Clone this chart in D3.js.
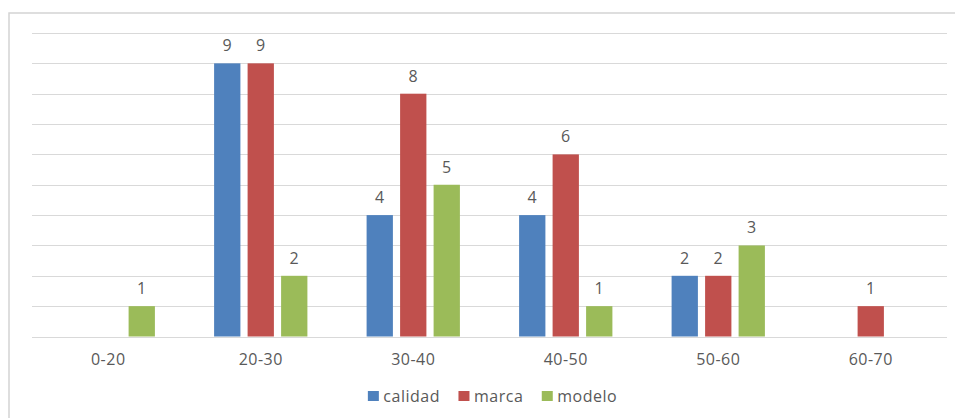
<!DOCTYPE html>
<html>
<head>
<meta charset="utf-8">
<script src="https://cdn.jsdelivr.net/npm/d3@7"></script>
<style>
  html, body { margin: 0; padding: 0; background: #fff; }
  svg { display: block; }
  text { font-family: "Open Sans", "DejaVu Sans", sans-serif; fill: #595959; letter-spacing: 0.5px; }
</style>
</head>
<body>
<svg id="chart" width="955" height="418"></svg>
<script>
// Age ranges along the x axis
const categories = ["0-20", "20-30", "30-40", "40-50", "50-60", "60-70"];
// Series names and their values per age range (null = no bar)
const seriesNames = ["calidad", "marca", "modelo"];
const calidad = [null, 9, 4, 4, 2, null];
const marca   = [null, 9, 8, 6, 2, 1];
const modelo  = [1, 2, 5, 1, 3, null];
const colors  = ["#4F81BD", "#C0504D", "#9BBB59"];
// Gridline values of the value axis
const gridTicks = [0, 1, 2, 3, 4, 5, 6, 7, 8, 9, 10];

const seriesValues = [calidad, marca, modelo];
const svg = d3.select("#chart");
const fontSize = "16px";

// Outer chart frame (open on the right and bottom edges)
svg.append("rect")
  .attr("x", 9).attr("y", 13)
  .attr("width", 1000).attr("height", 500)
  .attr("fill", "none")
  .attr("stroke", "#d4d4d4")
  .attr("stroke-width", 1.5);

const plot = { left: 32, right: 947, top: 33, bottom: 336.5 };

const x0 = d3.scaleBand()
  .domain(categories)
  .range([plot.left, plot.right])
  .padding(0);

const groupWidth = 100.5;
const x1 = d3.scaleBand()
  .domain(seriesNames)
  .range([0, groupWidth])
  .paddingInner(0.215)
  .paddingOuter(0.1075);

const y = d3.scaleLinear()
  .domain([0, 10])
  .range([plot.bottom, plot.top]);

// Horizontal gridlines
svg.append("g")
  .selectAll("line")
  .data(gridTicks)
  .join("line")
  .attr("x1", plot.left).attr("x2", plot.right)
  .attr("y1", d => Math.round(y(d)) + 0.5)
  .attr("y2", d => Math.round(y(d)) + 0.5)
  .attr("stroke", "#d9d9d9")
  .attr("stroke-width", 1);

// Bars and value labels
const rows = [];
seriesNames.forEach((name, si) => {
  categories.forEach((cat, ci) => {
    const v = seriesValues[si][ci];
    if (v !== null && v !== undefined) rows.push({ name, cat, v, color: colors[si] });
  });
});

const groupX = c => x0(c) + x0.bandwidth() / 2 - groupWidth / 2;

svg.append("g")
  .selectAll("rect")
  .data(rows)
  .join("rect")
  .attr("x", d => groupX(d.cat) + x1(d.name))
  .attr("y", d => y(d.v))
  .attr("width", x1.bandwidth())
  .attr("height", d => y(0) - y(d.v))
  .attr("fill", d => d.color);

svg.append("g")
  .selectAll("text")
  .data(rows)
  .join("text")
  .attr("x", d => groupX(d.cat) + x1(d.name) + x1.bandwidth() / 2)
  .attr("y", d => y(d.v) - 12)
  .attr("text-anchor", "middle")
  .style("font-size", fontSize)
  .text(d => d.v);

// Category axis labels
const xAxis = d3.axisBottom(x0).tickSize(0).tickPadding(0);
const gx = svg.append("g")
  .attr("transform", `translate(0,${plot.bottom})`)
  .call(xAxis);
gx.select(".domain").remove();
gx.selectAll("text")
  .attr("y", 28)
  .attr("dy", null)
  .style("font-size", fontSize)
  .style("font-family", null)
  .attr("fill", "#595959");

// Legend
const legend = svg.append("g");
const items = legend.selectAll("g")
  .data(seriesNames)
  .join("g");
items.append("rect")
  .attr("width", 11).attr("height", 10)
  .attr("y", 391)
  .attr("fill", (d, i) => colors[i]);
items.append("text")
  .attr("x", 15.5)
  .attr("y", 402)
  .style("font-size", fontSize)
  .text(d => d);

let cursor = 0;
const positions = [];
items.each(function () {
  const w = d3.select(this).select("text").node().getComputedTextLength();
  positions.push(cursor);
  cursor += 15.5 + w + 18.5;
});
const total = cursor - 18.5;
const start = 492.5 - total / 2;
items.attr("transform", (d, i) => `translate(${start + positions[i]},0)`);
</script>
</body>
</html>
